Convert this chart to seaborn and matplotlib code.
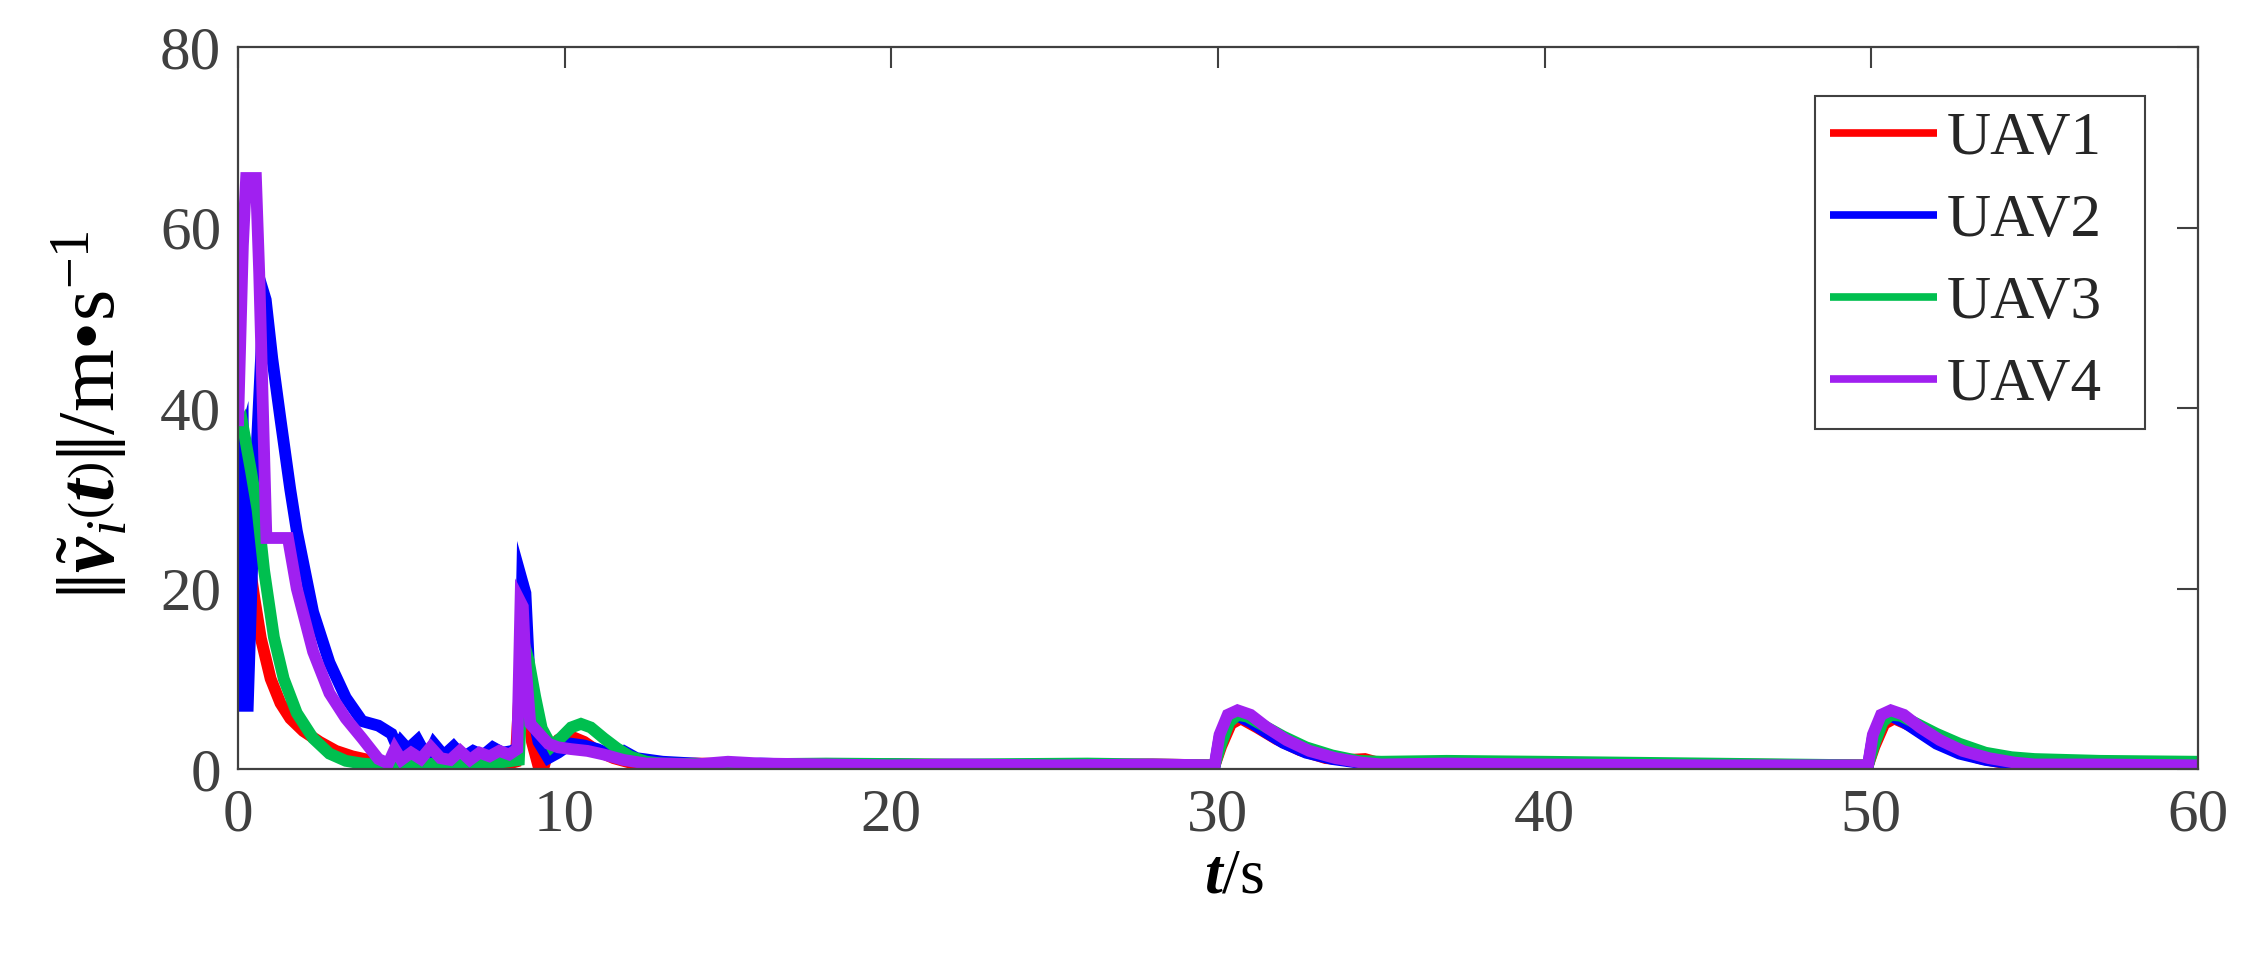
import numpy as np
import pandas as pd
import matplotlib
matplotlib.use("Agg")
import matplotlib.pyplot as plt
import seaborn as sns

# ---------------- data ----------------
uav1_t = [0, 0.1, 0.3, 0.5, 0.7, 1.0, 1.3, 1.6, 2.0, 2.5, 3.0, 3.5, 4.0, 4.5, 5.0,
          5.5, 6.0, 6.5, 7.0, 7.5, 8.0, 8.5, 8.7, 8.8, 9.0, 9.2, 9.35, 9.5, 9.8, 10.2,
          10.6, 11.0, 11.5, 12.0, 13, 14, 16, 18, 20, 24, 28, 29.9, 30.1, 30.4, 30.7,
          31.2, 31.8, 32.5, 33.3, 34, 34.5, 35, 36, 40, 45, 49.9, 50.1, 50.4, 50.7, 51.2,
          51.8, 52.5, 53.3, 54, 55, 57, 60]
uav1_v = [37, 33, 24, 19, 14.5, 10, 7.3, 5.6, 4.2, 3.0, 2.0, 1.4, 1.0, 0.7, 0.5,
          0.3, 0.1, 0.3, 0.2, 0.5, 0.3, 0.8, 14, 10, 3, 0.3, 0.1, 2.0, 3.2, 3.6,
          3.0, 2.0, 1.2, 0.7, 0.5, 0.6, 0.5, 0.4, 0.5, 0.4, 0.5, 0.4, 2.5, 5.0, 5.6,
          4.6, 3.3, 2.1, 1.2, 1.0, 1.1, 0.6, 0.5, 0.6, 0.5, 0.4, 2.5, 5.0, 5.6, 4.8,
          3.4, 2.2, 1.2, 0.7, 0.5, 0.5, 0.4]

uav2_t = [0, 0.15, 0.2, 0.3, 0.5, 0.8, 0.85, 1.05, 1.3, 1.6, 1.8, 2.3, 2.8, 3.3, 3.8,
          4.3, 4.7, 4.9, 5.0, 5.2, 5.5, 5.8, 6.0, 6.3, 6.6, 6.9, 7.2, 7.5, 7.8, 8.1,
          8.4, 8.6, 8.7, 8.8, 8.9, 9.0, 9.2, 9.5, 9.8, 10.2, 10.6, 11, 11.4, 11.8, 12.2,
          13, 14, 15, 16, 18, 20, 22, 25, 28, 29.9, 30.05, 30.3, 30.6, 31, 31.5,
          32, 32.7, 33.5, 34.3, 35, 37, 40, 45, 49.9, 50.05, 50.3, 50.6, 51, 51.5, 52,
          52.7, 53.5, 54.3, 55, 57, 60]
uav2_v = [34, 36, 7, 7, 30, 52.6, 52, 45.5, 38.8, 31, 26.4, 17.4, 11.8, 7.9, 5.3,
          4.8, 3.9, 2.2, 3.0, 2.2, 3.2, 1.2, 2.8, 1.5, 2.5, 1.3, 2.0, 1.5, 2.4, 1.8,
          2.0, 2.5, 20.8, 19.5, 12, 6.5, 3.0, 1.2, 1.8, 2.8, 2.6, 2.2, 1.6, 2.0, 1.2,
          0.8, 0.6, 0.4, 0.6, 0.4, 0.5, 0.4, 0.5, 0.4, 0.3, 3.5, 5.5, 5.9, 5.2, 4.0,
          2.9, 1.8, 1.1, 0.7, 0.5, 0.6, 0.5, 0.4, 0.3, 3.5, 5.5, 5.9, 5.2, 4.0, 2.8,
          1.7, 1.0, 0.6, 0.5, 0.4, 0.3]

uav3_t = [0, 0.15, 0.4, 0.6, 0.8, 1.1, 1.4, 1.8, 2.3, 2.8, 3.3, 3.8, 4.5, 5, 6,
          7, 8, 8.6, 8.75, 8.9, 9.1, 9.3, 9.6, 9.9, 10.2, 10.5, 10.8, 11.2, 11.6, 12,
          12.5, 13, 15, 18, 22, 26, 29.9, 30.1, 30.35, 30.6, 30.9, 31.4, 32, 32.7, 33.5,
          34.3, 35, 37, 40, 45, 49.9, 50.1, 50.35, 50.6, 50.9, 51.4, 52, 52.7, 53.5, 54.3,
          55, 57, 60]
uav3_v = [37, 38, 33, 28.7, 22, 14.6, 10, 6.2, 3.4, 1.7, 0.9, 0.6, 0.4, 0.3, 0.6,
          0.4, 0.7, 1.0, 14, 12, 8, 4.5, 2.5, 3.5, 4.6, 5.0, 4.6, 3.4, 2.3, 1.4,
          0.8, 0.6, 0.5, 0.6, 0.5, 0.6, 0.4, 2.8, 5.2, 6.0, 5.8, 4.8, 3.6, 2.4, 1.5,
          0.9, 0.8, 0.9, 0.8, 0.6, 0.4, 2.8, 5.2, 6.0, 5.9, 5.0, 3.9, 2.8, 1.8, 1.3,
          1.1, 0.9, 0.8]

uav4_t = [0, 0.15, 0.25, 0.55, 0.65, 0.87, 1.2, 1.53, 1.8, 2.3, 2.8, 3.3, 3.8, 4.3, 4.6,
          4.8, 5.0, 5.3, 5.6, 5.9, 6.2, 6.5, 6.8, 7.1, 7.4, 7.7, 8.0, 8.3, 8.55, 8.65,
          8.72, 8.8, 8.95, 9.2, 9.5, 9.8, 10.2, 10.7, 11.2, 11.8, 12.5, 13, 14, 15, 16,
          18, 20, 22, 25, 28, 29.9, 30.05, 30.3, 30.6, 31, 31.5, 32.1, 32.8, 33.6, 34.4,
          35, 37, 40, 45, 49.9, 50.05, 50.3, 50.6, 51, 51.5, 52.1, 52.8, 53.6, 54.4, 55,
          57, 60]
uav4_v = [38, 58, 65.5, 65.5, 55, 25.6, 25.6, 25.6, 20, 13, 8.4, 5.6, 3.4, 1.1, 0.6,
          2.2, 1.0, 1.8, 1.1, 2.4, 1.2, 1.0, 2.0, 1.0, 1.8, 1.4, 2.0, 1.6, 2.2, 18.5,
          18, 11.8, 5, 4, 2.8, 2.4, 2.2, 2.0, 1.6, 1.0, 0.6, 0.6, 0.5, 0.8, 0.6,
          0.5, 0.4, 0.5, 0.4, 0.5, 0.4, 3.8, 6.0, 6.5, 6.0, 4.6, 3.2, 2.0, 1.2, 0.7,
          0.5, 0.6, 0.5, 0.4, 0.4, 3.8, 6.0, 6.5, 6.0, 4.6, 3.2, 2.0, 1.2, 0.7, 0.5,
          0.5, 0.4]

series_names = ["UAV1", "UAV2", "UAV3", "UAV4"]
series_colors = ["#FF0000", "#0000FF", "#00BF4F", "#A020F0"]
x_ticks = [0, 10, 20, 30, 40, 50, 60]
y_ticks = [0, 20, 40, 60, 80]

# ---------------- build long table ----------------
frames = []
for name, tt, vv in zip(series_names, [uav1_t, uav2_t, uav3_t, uav4_t],
                        [uav1_v, uav2_v, uav3_v, uav4_v]):
    frames.append(pd.DataFrame({"t": tt, "v": vv, "UAV": name}))
df = pd.concat(frames, ignore_index=True)

# ---------------- style ----------------
sns.set_style("white")
plt.rcParams["font.family"] = ["Liberation Serif", "DejaVu Serif"]
plt.rcParams["mathtext.fontset"] = "custom"
plt.rcParams["mathtext.rm"] = "Liberation Serif"
plt.rcParams["mathtext.it"] = "Liberation Serif:italic"
plt.rcParams["mathtext.bf"] = "Liberation Serif:italic:bold"

fig = plt.figure(figsize=(22.45, 9.63), dpi=100)
ax = fig.add_axes([0.106, 0.2015, 0.873, 0.7495])

sns.lineplot(data=df, x="t", y="v", hue="UAV", hue_order=series_names,
             palette=dict(zip(series_names, series_colors)),
             sort=False, estimator=None, linewidth=8.5, ax=ax)
for ln in ax.lines:
    ln.set_solid_joinstyle("miter")
    ln.set_solid_capstyle("butt")

ax.set_xlim(0, 60)
ax.set_ylim(0, 80)
ax.set_xticks(x_ticks)
ax.set_yticks(y_ticks)

axis_gray = "#404040"
for sp in ax.spines.values():
    sp.set_visible(True)
    sp.set_color(axis_gray)
    sp.set_linewidth(1.6)
    sp.set_zorder(5)

ax.tick_params(axis="both", which="major", direction="in", length=15, width=1.5,
               color=axis_gray, labelcolor=axis_gray, labelsize=44,
               top=True, right=True)
ax.tick_params(axis="x", pad=14)
ax.tick_params(axis="y", pad=12)

ax.set_xlabel(r"$\mathbf{t}$/s", fontsize=46, color="black")
ax.xaxis.set_label_coords(0.508, -0.11)
ax.set_ylabel(r"$\left\|\tilde{\mathbf{v}}_{i}\left(\mathbf{t}\right)\right\|$/m•s$^{-1}$",
              fontsize=58, color="black")
ax.yaxis.set_label_coords(-0.054, 0.49)

handles, labels = ax.get_legend_handles_labels()
leg = ax.legend(handles, labels, loc="upper right",
                bbox_to_anchor=(0.8046, 0.4, 0.1684, 0.532), mode="expand",
                borderaxespad=0, fontsize=44, frameon=True, fancybox=False,
                framealpha=1, edgecolor=axis_gray, handlelength=1.75,
                handletextpad=0.15, labelspacing=0.43, borderpad=0.25)
leg.get_frame().set_linewidth(1.5)
for lh in leg.get_lines():
    lh.set_linewidth(5.5)

fig.savefig("out.png", dpi=100, facecolor="white")
